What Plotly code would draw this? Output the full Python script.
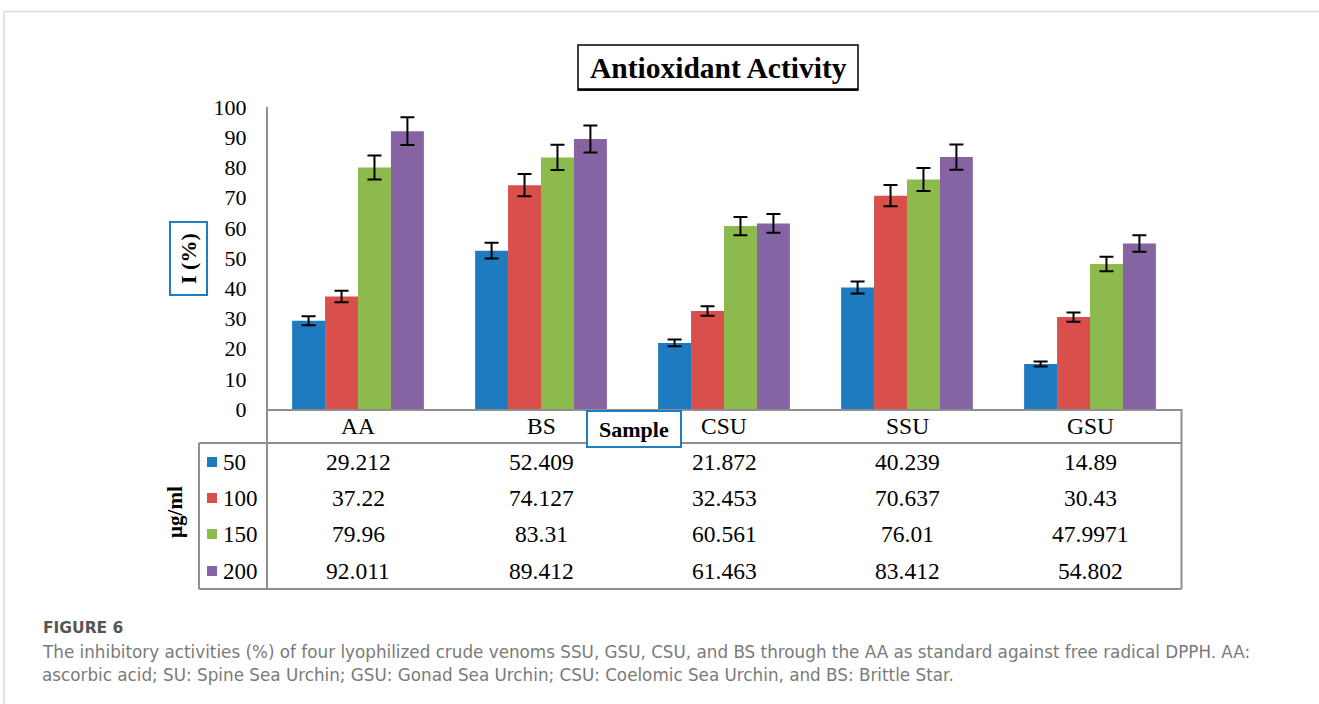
import plotly.graph_objects as go

# ---- data ----
categories = ["AA", "BS", "CSU", "SSU", "GSU"]
concentrations = ["50", "100", "150", "200"]
v50 = [29.212, 52.409, 21.872, 40.239, 14.89]
v100 = [37.22, 74.127, 32.453, 70.637, 30.43]
v150 = [79.96, 83.31, 60.561, 76.01, 47.9971]
v200 = [92.011, 89.412, 61.463, 83.412, 54.802]
# error bar half-lengths
e50 = [1.5, 2.6, 1.1, 2.0, 0.8]
e100 = [1.9, 3.7, 1.6, 3.5, 1.5]
e150 = [4.0, 4.2, 3.0, 3.8, 2.4]
e200 = [4.6, 4.5, 3.1, 4.2, 2.7]
y_ticks = [0, 10, 20, 30, 40, 50, 60, 70, 80, 90, 100]

series = [v50, v100, v150, v200]
errors = [e50, e100, e150, e200]
colors = ["#1F7BBF", "#D94F4B", "#8DBA4C", "#8664A3"]

W, H = 1319, 704
def px(x):
    return x / W
def py(y):
    return 1 - y / H

SERIF = "Liberation Serif, Times New Roman, serif"
GRID = "#8f8f8f"

fig = go.Figure()
for name, vals, errs, col in zip(concentrations, series, errors, colors):
    fig.add_trace(go.Bar(
        x=categories, y=vals, name=name, marker=dict(color=col, line=dict(width=0)),
        error_y=dict(type="data", array=errs, visible=True, color="black", thickness=2, width=7),
        showlegend=False,
    ))

x_left, x_right = 266.5, 1181.5
y_zero, y_top = 409, 107

fig.update_layout(
    width=W, height=H, margin=dict(l=0, r=0, t=0, b=0, autoexpand=False),
    paper_bgcolor="white", plot_bgcolor="white",
    barmode="group", bargap=0.28, bargroupgap=0,
    showlegend=False,
    xaxis=dict(domain=[px(x_left), px(x_right)], range=[-0.5, 4.5], showticklabels=False,
               showgrid=False, zeroline=False, showline=True, linecolor=GRID, linewidth=2,
               ticks="", automargin=False),
    yaxis=dict(domain=[py(y_zero), py(y_top)], range=[0, 100], tickvals=y_ticks,
               showgrid=False, zeroline=False, showline=False, ticks="",
               ticklabelstandoff=19, automargin=False,
               tickfont=dict(family=SERIF, size=22, color="black")),
    font=dict(family=SERIF, color="black"),
)

shapes = []
def line(x0, y0, x1, y1, color=GRID, width=2):
    shapes.append(dict(type="line", xref="paper", yref="paper",
                       x0=px(x0), y0=py(y0), x1=px(x1), y1=py(y1),
                       line=dict(color=color, width=width)))

# page card border
line(4, 11.5, W, 11.5, color="#d9d9d9", width=1.5)
line(4, 11.5, 4, H, color="#d9d9d9", width=1.5)

# y axis line extended through table
line(267, y_top, 267, 589)
# table lines
line(199, 443, x_right, 443)
line(199, 443, 199, 589)
line(199, 589, x_right, 589)
line(x_right, y_zero, x_right, 589)

# title box
shapes.append(dict(type="rect", xref="paper", yref="paper", x0=px(578), x1=px(858),
                   y0=py(90), y1=py(45), line=dict(color="black", width=1.5), fillcolor="white",
                   layer="below"))
line(578, 89.5, 858, 89.5, color="black", width=2.5)

# "I (%)" box
shapes.append(dict(type="rect", xref="paper", yref="paper", x0=px(170), x1=px(207),
                   y0=py(295), y1=py(222), line=dict(color="#1F7EC1", width=2), fillcolor="white"))
# "Sample" box
shapes.append(dict(type="rect", xref="paper", yref="paper", x0=px(587), x1=px(681),
                   y0=py(447), y1=py(411), line=dict(color="#1F7EC1", width=2), fillcolor="white",
                   layer="above"))

row_y = [462, 498, 534, 571]
# legend keys
for ry, col in zip(row_y, colors):
    shapes.append(dict(type="rect", xref="paper", yref="paper", x0=px(207), x1=px(217),
                       y0=py(ry + 5), y1=py(ry - 5), line=dict(width=0), fillcolor=col))

fig.update_layout(shapes=shapes)

ann = []
ann.append(dict(text="<b>Antioxidant Activity</b>", xref="paper", yref="paper",
                x=px(718), y=py(68), xanchor="center", yanchor="middle", showarrow=False,
                font=dict(family=SERIF, size=29.5, color="black")))
ann.append(dict(text="<b>I (%)</b>", xref="paper", yref="paper", x=px(188.5), y=py(258.5),
                xanchor="center", yanchor="middle", showarrow=False, textangle=-90,
                font=dict(family=SERIF, size=22, color="black")))
ann.append(dict(text="<b>Sample</b>", xref="paper", yref="paper", x=px(634), y=py(429),
                xanchor="center", yanchor="middle", showarrow=False,
                font=dict(family=SERIF, size=22, color="black")))
ann.append(dict(text="<b>µg/ml</b>", xref="paper", yref="paper", x=px(175), y=py(512),
                xanchor="center", yanchor="middle", showarrow=False, textangle=-90,
                font=dict(family=SERIF, size=21, color="black")))

# header row (categories)
for c in categories:
    ann.append(dict(text=c, xref="x", yref="paper", x=c, y=py(426), xanchor="center",
                    yanchor="middle", showarrow=False, font=dict(family=SERIF, size=23.5, color="black")))
# data rows
for ry, name, vals in zip(row_y, concentrations, series):
    ann.append(dict(text=name, xref="paper", yref="paper", x=px(221), y=py(ry), xanchor="left",
                    yanchor="middle", showarrow=False, font=dict(family=SERIF, size=23, color="black")))
    for c, v in zip(categories, vals):
        ann.append(dict(text=str(v), xref="x", yref="paper", x=c, y=py(ry), xanchor="center",
                        yanchor="middle", showarrow=False,
                        font=dict(family=SERIF, size=23.5, color="black")))

# caption
CAP = "DejaVu Sans, Verdana, sans-serif"
ann.append(dict(text="<b>FIGURE 6</b>", xref="paper", yref="paper", x=px(41), y=py(628),
                xanchor="left", yanchor="middle", showarrow=False,
                font=dict(family=CAP, size=15.5, color="#555555")))
ann.append(dict(text="The inhibitory activities (%) of four lyophilized crude venoms SSU, GSU, CSU, and BS through the AA as standard against free radical DPPH. AA:",
                xref="paper", yref="paper", x=px(40), y=py(652), xanchor="left", yanchor="middle",
                showarrow=False, font=dict(family=CAP, size=16.8, color="#7a7a7a")))
ann.append(dict(text="ascorbic acid; SU: Spine Sea Urchin; GSU: Gonad Sea Urchin; CSU: Coelomic Sea Urchin, and BS: Brittle Star.",
                xref="paper", yref="paper", x=px(40), y=py(675), xanchor="left", yanchor="middle",
                showarrow=False, font=dict(family=CAP, size=16.8, color="#7a7a7a")))

fig.update_layout(annotations=ann)

fig.write_html("out.html", config={"displayModeBar": False},
               post_script="document.body.style.margin='0';document.body.style.overflow='hidden';")
